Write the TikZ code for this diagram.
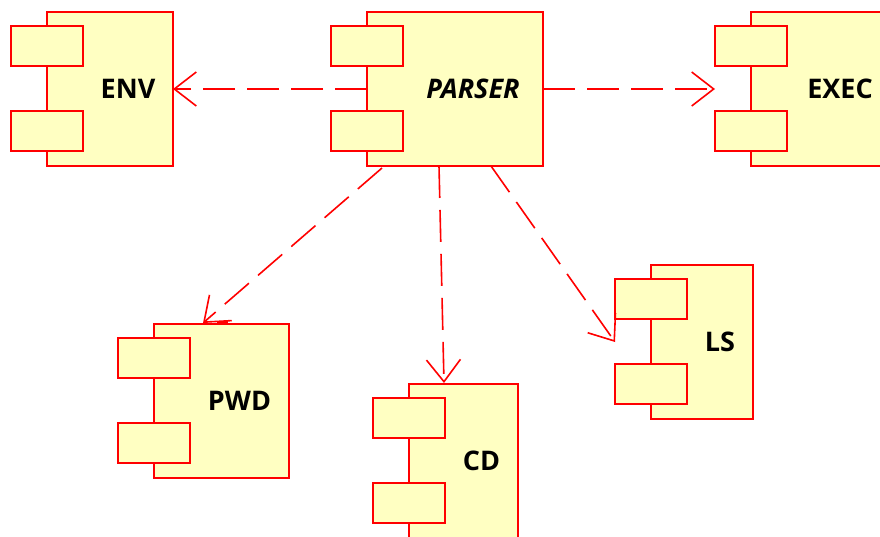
\documentclass[tikz,border=0pt]{standalone}
\usepackage{fontspec}
\setmainfont{Open Sans}
\usetikzlibrary{arrows.meta,calc}
\definecolor{compfill}{RGB}{255,255,194}
\definecolor{compline}{RGB}{255,0,0}
\tikzset{
  compbody/.style={draw=compline, fill=compfill, line width=2pt, minimum height=154pt,
    inner sep=0pt, outer sep=0pt, anchor=north west},
  compport/.style={draw=compline, fill=compfill, line width=2pt, minimum width=72pt,
    minimum height=40pt, inner sep=0pt, outer sep=0pt, anchor=north west},
  complabel/.style={font=\fontsize{27}{30}\selectfont\bfseries, text=black, inner sep=0pt},
  depline/.style={draw=compline, line width=1.6pt, dash pattern=on 32pt off 12pt,
    -{Straight Barb[length=22pt,width=34pt,line width=1.6pt]}},
}
\newcommand\umlcomp[6]{%
  \node[compbody, minimum width=#4pt] (#1) at (#2,#3) {};
  \node[compport] (#1A) at ($(#1.north west)+(-36,14)$) {};
  \node[compport] (#1B) at ($(#1.north west)+(-36,99)$) {};
  \node[complabel] (#1L) at ($(#1A.east |- #1.center)!0.5!(#1.east)$) {#6#5};
}
\begin{document}
\begin{tikzpicture}[x=1pt,y=-1pt]
  \useasboundingbox (0,0) rectangle (880,537);
  \umlcomp{env}{47}{12}{126}{ENV}{}
  \umlcomp{parser}{367}{12}{176}{PARSER}{\itshape}
  \umlcomp{exec}{751}{12}{142}{EXEC}{}
  \umlcomp{pwd}{154}{324}{135}{PWD}{}
  \umlcomp{cd}{409}{384}{109}{CD}{}
  \umlcomp{ls}{651}{265}{102}{LS}{}
  \fill[compline] ($(pwd.north west)+(63,-3)$) rectangle ($(pwd.north west)+(74,0)$);
  \draw[depline] (parser.west) -- (env.east);
  \draw[depline] (parser.east) -- (parser.east -| execA.west);
  \draw[depline] ($(parser.south west)+(15,2)$) -- ($(pwd.north west)+(49,-1)$);
  \draw[depline] ($(parser.south west)+(72,0)$) -- ($(cd.north west)+(35,-1)$);
  \draw[depline] ($(parser.south west)+(124,0)$) -- (lsA.west |- ls.west);
\end{tikzpicture}
\end{document}
